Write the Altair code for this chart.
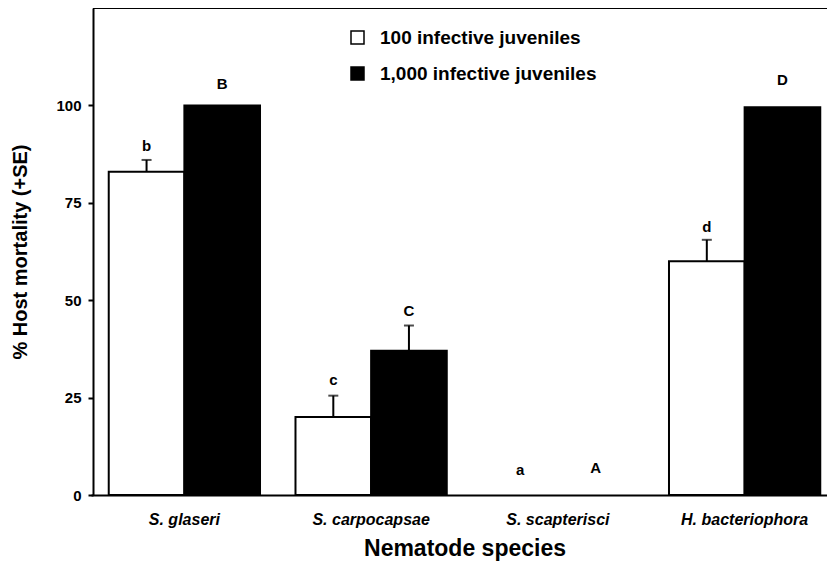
import altair as alt
import pandas as pd

species = ["S. glaseri", "S. carpocapsae", "S. scapterisci", "H. bacteriophora"]
doses = ["100 infective juveniles", "1,000 infective juveniles"]
mort_100 = [83, 20, 0, 60]
se_100 = [3, 5.5, 0, 5.5]
mort_1000 = [100, 37, 0, 99.5]
se_1000 = [0, 6.5, 0, 0]
letters_100 = ["b", "c", "a", "d"]
letters_1000 = ["B", "C", "A", "D"]
letter_y_100 = [89.5, 29.4, 6.4, 68.8]
letter_y_1000 = [105.4, 47.3, 6.9, 106.6]

rows = []
for i, s in enumerate(species):
    rows.append(dict(species=s, dose=doses[0], mortality=mort_100[i], se=se_100[i],
                     upper=mort_100[i] + se_100[i], letter=letters_100[i], ly=letter_y_100[i]))
    rows.append(dict(species=s, dose=doses[1], mortality=mort_1000[i], se=se_1000[i],
                     upper=mort_1000[i] + se_1000[i], letter=letters_1000[i], ly=letter_y_1000[i]))
df = pd.DataFrame(rows)

W = 734
H = 487
FONT = "Liberation Sans"

x_enc = alt.X("species:N", sort=species,
              scale=alt.Scale(range=[-2, 745], paddingInner=0.19, paddingOuter=0.095),
              axis=alt.Axis(title="Nematode species", labelAngle=0, ticks=False,
                            labelFontStyle="italic", labelFontWeight="bold", labelFontSize=16,
                            labelPadding=16, titleFontSize=23, titleFontWeight="bold",
                            titlePadding=10, domainWidth=2))
xo_enc = alt.XOffset("dose:N", sort=doses)
y_scale = alt.Scale(domain=[0, 125], nice=False)

bars = alt.Chart(df).transform_filter("datum.mortality > 0").mark_bar(
    stroke="black", strokeWidth=2).encode(
    x=x_enc, xOffset=xo_enc,
    y=alt.Y("mortality:Q", scale=y_scale,
            axis=alt.Axis(title="% Host mortality (+SE)", values=[0, 25, 50, 75, 100],
                          grid=False, tickSize=5, tickWidth=2, domainWidth=2,
                          labelFontSize=15, labelFontWeight="bold", labelPadding=7,
                          titleFontSize=20, titleFontWeight="bold", titlePadding=25)),
    color=alt.Color("dose:N", sort=doses,
                    scale=alt.Scale(domain=doses, range=["white", "black"]),
                    legend=alt.Legend(title=None, orient="none", legendX=255, legendY=20,
                                      symbolType="square", symbolSize=169,
                                      symbolStrokeColor="black", symbolStrokeWidth=1.5,
                                      labelFontSize=19, labelFontWeight="bold", labelLimit=400,
                                      labelOffset=13, rowPadding=16, padding=0)),
)

err = alt.Chart(df).transform_filter("datum.se > 0")
stems = err.mark_rule(color="black", strokeWidth=2).encode(
    x=x_enc, xOffset=xo_enc, y=alt.Y("mortality:Q", scale=y_scale), y2="upper:Q")
caps = err.mark_tick(color="black", thickness=2, size=10, orient="horizontal").encode(
    x=x_enc, xOffset=xo_enc, y=alt.Y("upper:Q", scale=y_scale))

letters = alt.Chart(df).mark_text(font=FONT, fontWeight="bold", fontSize=15,
                                  color="black", baseline="middle").encode(
    x=x_enc, xOffset=xo_enc, y=alt.Y("ly:Q", scale=y_scale), text="letter:N")

top = alt.Chart(pd.DataFrame({"a": [0]})).mark_rule(color="black", strokeWidth=2).encode(
    x=alt.value(0), x2=alt.value(W), y=alt.value(0))

chart = alt.layer(bars, stems, caps, letters, top).properties(
    width=W, height=H,
    autosize=alt.AutoSizeParams(type="none"),
    padding={"left": 85, "top": 0, "right": 0, "bottom": 66}
).configure_view(stroke=None).configure_axis(
    domainColor="black", tickColor="black", labelColor="black", titleColor="black",
    labelFont=FONT, titleFont=FONT
).configure_legend(labelFont=FONT, labelColor="black")

chart.save("out.html", embed_options={"renderer": "svg", "actions": False})
